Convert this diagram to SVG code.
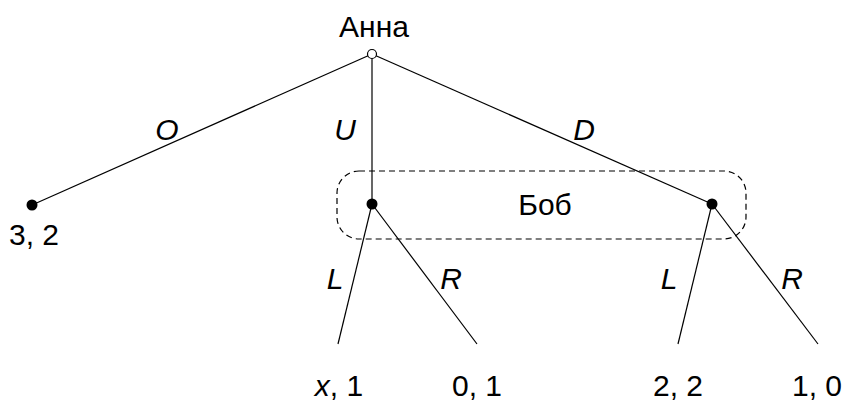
<svg xmlns="http://www.w3.org/2000/svg" width="854" height="403" viewBox="0 0 854 403">
<style>
text{font-family:"Liberation Sans",Arial,sans-serif;font-size:30px;fill:#000}
.i{font-style:italic}
.e{stroke:#000;stroke-width:1.2;fill:none}
.d{fill:#000}
</style>
<rect width="854" height="403" fill="#fff"/>
<g id="connectors">
<line class="e" x1="372" y1="54" x2="32" y2="205"/>
<line class="e" x1="372" y1="54" x2="372" y2="204"/>
<line class="e" x1="372" y1="54" x2="712" y2="204"/>
<line class="e" x1="372" y1="204" x2="338" y2="344"/>
<line class="e" x1="372" y1="204" x2="477" y2="344"/>
<line class="e" x1="712" y1="204" x2="678" y2="344"/>
<line class="e" x1="712" y1="204" x2="818" y2="344"/>
<text class="i" x="167" y="140" text-anchor="middle">O</text>
<text class="i" x="345" y="140" text-anchor="middle">U</text>
<text class="i" x="584" y="140" text-anchor="middle">D</text>
<text class="i" x="335" y="289" text-anchor="middle">L</text>
<text class="i" x="451" y="289" text-anchor="middle">R</text>
<text class="i" x="669" y="289" text-anchor="middle">L</text>
<text class="i" x="792" y="289" text-anchor="middle">R</text>
</g>
<g id="info-set">
<rect x="337" y="171" width="409" height="68" rx="22" ry="22" fill="none" stroke="#000" stroke-width="1.2" stroke-dasharray="6,4"/>
<text x="545" y="215" text-anchor="middle">Боб</text>
</g>
<g id="root">
<circle cx="372" cy="54" r="4.5" fill="#fff" stroke="#000" stroke-width="1.2"/>
<text x="374" y="37" text-anchor="middle">Анна</text>
</g>
<g id="leaf-O">
<circle class="d" cx="32" cy="205" r="5.5"/>
<text x="34" y="245" text-anchor="middle">3, 2</text>
</g>
<g id="bob-1"><circle class="d" cx="372" cy="204" r="5.5"/></g>
<g id="bob-2"><circle class="d" cx="712" cy="204" r="5.5"/></g>
<g id="leaf-UL"><text x="339" y="396" text-anchor="middle"><tspan class="i">x</tspan>, 1</text></g>
<g id="leaf-UR"><text x="477" y="396" text-anchor="middle">0, 1</text></g>
<g id="leaf-DL"><text x="678" y="396" text-anchor="middle">2, 2</text></g>
<g id="leaf-DR"><text x="817" y="396" text-anchor="middle">1, 0</text></g>
</svg>
